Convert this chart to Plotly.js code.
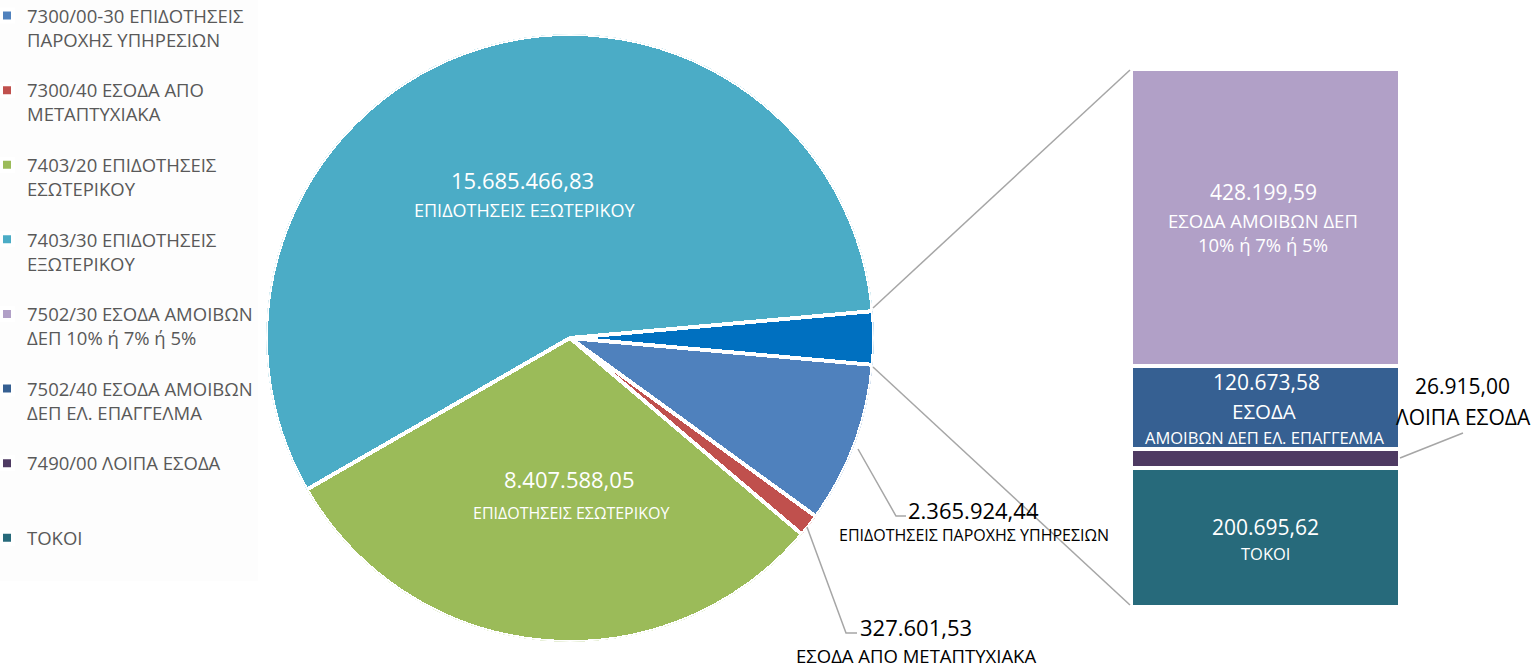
<!DOCTYPE html>
<html>
<head>
<meta charset="utf-8">
<script src="https://cdn.plot.ly/plotly-3.0.1.min.js"></script>
<style>
html,body{margin:0;padding:0;background:#fff;}
#chart{width:1535px;height:667px;}
</style>
</head>
<body>
<div id="chart"></div>
<script>
// ---------- data ----------
const pieLegend = [
  '7300/00-30 ΕΠΙΔΟΤΗΣΕΙΣ<br>ΠΑΡΟΧΗΣ ΥΠΗΡΕΣΙΩΝ',
  '7300/40 ΕΣΟΔΑ ΑΠΟ<br>ΜΕΤΑΠΤΥΧΙΑΚΑ',
  '7403/20 ΕΠΙΔΟΤΗΣΕΙΣ<br>ΕΣΩΤΕΡΙΚΟΥ',
  '7403/30 ΕΠΙΔΟΤΗΣΕΙΣ<br>ΕΞΩΤΕΡΙΚΟΥ'
];
const pieNames = [
  'ΕΠΙΔΟΤΗΣΕΙΣ ΠΑΡΟΧΗΣ ΥΠΗΡΕΣΙΩΝ',
  'ΕΣΟΔΑ ΑΠΟ ΜΕΤΑΠΤΥΧΙΑΚΑ',
  'ΕΠΙΔΟΤΗΣΕΙΣ ΕΣΩΤΕΡΙΚΟΥ',
  'ΕΠΙΔΟΤΗΣΕΙΣ ΕΞΩΤΕΡΙΚΟΥ'
];
const pieValues = [2365924.44, 327601.53, 8407588.05, 15685466.83];
const pieColors = ['#4F81BD', '#C0504D', '#9BBB59', '#4BACC6'];

const barLegend = [
  '7502/30 ΕΣΟΔΑ ΑΜΟΙΒΩΝ<br>ΔΕΠ 10% ή 7% ή 5%',
  '7502/40 ΕΣΟΔΑ ΑΜΟΙΒΩΝ<br>ΔΕΠ ΕΛ. ΕΠΑΓΓΕΛΜΑ',
  '7490/00 ΛΟΙΠΑ ΕΣΟΔΑ<br>',
  'ΤΟΚΟΙ<br>'
];
const barValues = [428199.59, 120673.58, 26915.00, 200695.62];
const barColors = ['#B1A0C7', '#366092', '#4E3A62', '#276A7B'];
const otherColor = '#0070C0';

// ---------- helpers ----------
const W = 1535, H = 667;
const px = x => x / W;
const py = y => 1 - y / H;
function fmt(v) {
  const s = v.toFixed(2);
  const [i, d] = s.split('.');
  return i.replace(/\B(?=(\d{3})+(?!\d))/g, '.') + ',' + d;
}
const FONT = 'Open Sans, Noto Sans, sans-serif';

// ---------- pie (drawn as polar wedges) ----------
const otherValue = barValues.reduce((a, b) => a + b, 0);
const allPie = pieValues.concat([otherValue]);
const total = allPie.reduce((a, b) => a + b, 0);
const widths = allPie.map(v => v / total * 360);
let start = widths[4] / 2;   // "other" slice centred on 3 o'clock
const traces = [];
allPie.forEach((v, i) => {
  const w = widths[i];
  const mid = start + w / 2;
  start += w;
  traces.push({
    type: 'barpolar',
    subplot: 'polar',
    r: [1],
    theta: [mid],
    width: [w],
    base: [0],
    name: i < 4 ? pieLegend[i] : 'ΛΟΙΠΑ',
    showlegend: i < 4,
    legendgroup: 'p' + i,
    legendrank: i + 1,
    marker: {color: i < 4 ? pieColors[i] : otherColor, line: {color: '#ffffff', width: 4}},
    hoverinfo: 'skip'
  });
});

// ---------- stacked bar (bottom to top) ----------
for (let i = barValues.length - 1; i >= 0; i--) {
  traces.push({
    type: 'bar',
    x: [0],
    y: [barValues[i]],
    width: [1],
    name: barLegend[i],
    legendgroup: 'b' + i,
    legendrank: 10 + i,
    marker: {color: barColors[i], line: {color: '#ffffff', width: 4}},
    xaxis: 'x',
    yaxis: 'y',
    hoverinfo: 'skip'
  });
}

// ---------- labels ----------
function ann(x, y, text, size, color) {
  return {x: px(x), y: py(y), xref: 'paper', yref: 'paper', text: text, showarrow: false,
          xanchor: 'center', yanchor: 'middle', font: {family: FONT, size: size, color: color}};
}
const annotations = [
  ann(522, 180, fmt(pieValues[3]), 22, '#ffffff'),
  ann(525, 210, pieNames[3], 18, '#ffffff'),
  ann(569, 479, fmt(pieValues[2]), 22, '#ffffff'),
  ann(571, 513, pieNames[2], 16, '#ffffff'),
  ann(973, 510, fmt(pieValues[0]), 22, '#000000'),
  ann(974, 535, pieNames[0], 16, '#000000'),
  ann(916, 627, fmt(pieValues[1]), 22, '#000000'),
  ann(916, 655, pieNames[1], 18.5, '#000000'),
  ann(1263, 192, fmt(barValues[0]), 21, '#ffffff'),
  ann(1263, 233, 'ΕΣΟΔΑ ΑΜΟΙΒΩΝ ΔΕΠ<br>10% ή 7% ή 5%', 18.5, '#ffffff'),
  ann(1266, 382, fmt(barValues[1]), 21, '#ffffff'),
  ann(1264, 411, 'ΕΣΟΔΑ', 20.5, '#ffffff'),
  ann(1264, 437, 'ΑΜΟΙΒΩΝ ΔΕΠ ΕΛ. ΕΠΑΓΓΕΛΜΑ', 16.5, '#ffffff'),
  ann(1462, 386, fmt(barValues[2]), 21, '#000000'),
  ann(1463, 417, 'ΛΟΙΠΑ ΕΣΟΔΑ', 21, '#000000'),
  ann(1265, 527, fmt(barValues[3]), 21, '#ffffff'),
  ann(1265, 553, 'ΤΟΚΟΙ', 16.5, '#ffffff')
];

function path(pts) {
  return pts.map((p, k) => (k ? 'L' : 'M') + px(p[0]).toFixed(5) + ',' + py(p[1]).toFixed(5)).join(' ');
}
const lineStyle = {color: '#A6A6A6', width: 1.5};
const shapes = [
  {type: 'path', xref: 'paper', yref: 'paper', path: path([[873, 308], [1130, 70]]), line: lineStyle},
  {type: 'path', xref: 'paper', yref: 'paper', path: path([[873, 367], [1130, 605]]), line: lineStyle},
  {type: 'path', xref: 'paper', yref: 'paper', path: path([[858, 449], [896, 516], [906, 516]]), line: lineStyle},
  {type: 'path', xref: 'paper', yref: 'paper', path: path([[807, 527], [846, 633], [857, 633]]), line: lineStyle},
  {type: 'path', xref: 'paper', yref: 'paper', path: path([[1400, 458], [1463, 433]]), line: lineStyle}
];

const layout = {
  width: W, height: H,
  margin: {l: 0, r: 0, t: 0, b: 0, pad: 0, autoexpand: false},
  paper_bgcolor: '#ffffff',
  plot_bgcolor: 'rgba(0,0,0,0)',
  font: {family: FONT},
  hovermode: false,
  barmode: 'stack',
  polar: {
    domain: {x: [px(266), px(874)], y: [py(642), py(34)]},
    bgcolor: 'rgba(0,0,0,0)',
    hole: 0,
    radialaxis: {visible: false, range: [0, 1]},
    angularaxis: {visible: false, direction: 'clockwise', rotation: 0}
  },
  xaxis: {domain: [px(1131), px(1400)], range: [-0.5, 0.5], visible: false, fixedrange: true},
  yaxis: {domain: [py(607), py(69)], range: [0, otherValue], visible: false, fixedrange: true},
  legend: {
    x: -13 / W, y: 1 + 3 / H, xanchor: 'left', yanchor: 'top',
    bgcolor: '#FDFDFD', borderwidth: 0, maxheight: 700,
    font: {family: FONT, size: 18.5, color: '#595959'},
    traceorder: 'grouped', tracegroupgap: 23.5, valign: 'top'
  },
  showlegend: true,
  annotations: annotations,
  shapes: shapes
};

Plotly.newPlot('chart', traces, layout, {displayModeBar: false, staticPlot: true});
</script>
</body>
</html>
